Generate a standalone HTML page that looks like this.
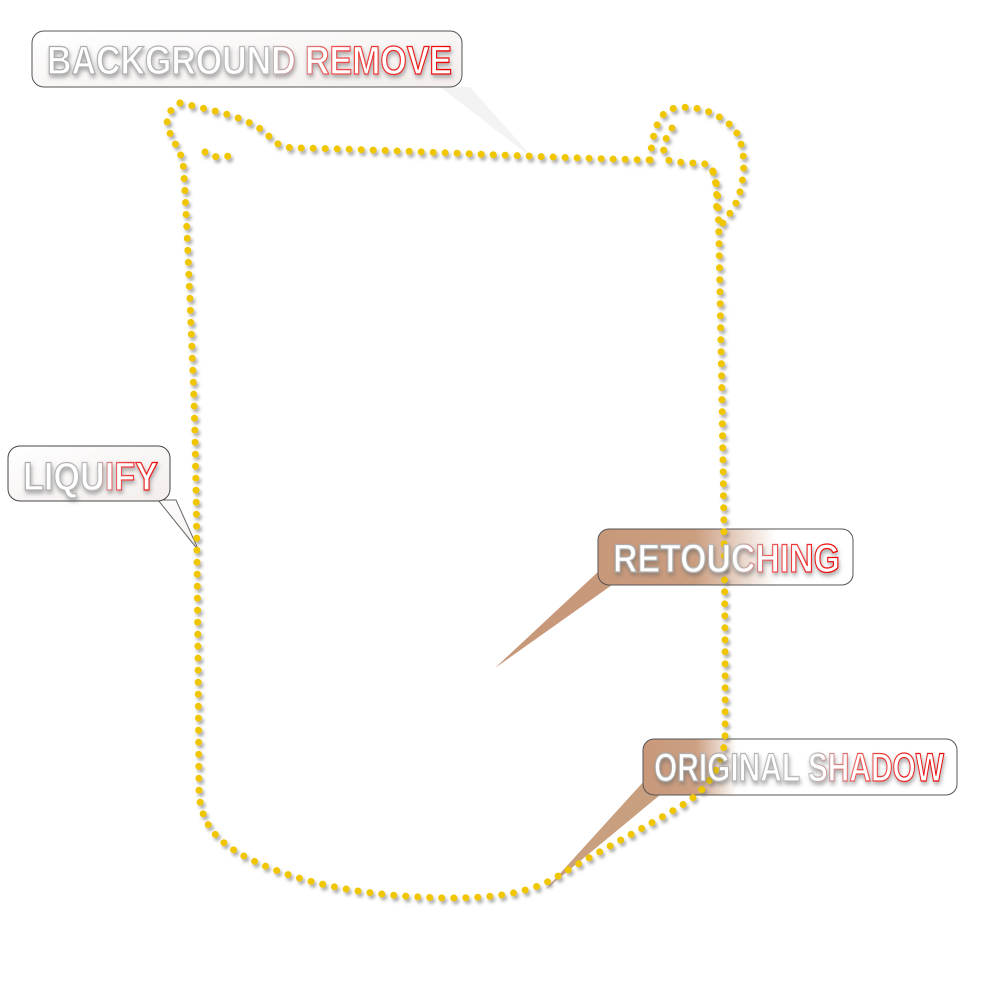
<!DOCTYPE html>
<html><head><meta charset="utf-8"><style>html,body{margin:0;padding:0;background:#fff}svg{display:block}</style></head>
<body>
<svg width="1000" height="1000" viewBox="0 0 1000 1000" xmlns="http://www.w3.org/2000/svg">
<defs>
<linearGradient id="tg" x1="0" y1="0" x2="1" y2="0">
<stop offset="0" stop-color="#aaa"/><stop offset="0.55" stop-color="#bbb"/><stop offset="0.7" stop-color="#e55"/><stop offset="1" stop-color="#e00"/></linearGradient>
<linearGradient id="br" x1="0" y1="0" x2="1" y2="0">
<stop offset="0" stop-color="#c8987a"/><stop offset="0.38" stop-color="#cc9e80"/><stop offset="0.7" stop-color="#fff"/></linearGradient>
<linearGradient id="br2" x1="0" y1="0" x2="1" y2="0">
<stop offset="0" stop-color="#c8987a"/><stop offset="0.17" stop-color="#cda083"/><stop offset="0.3" stop-color="#fff"/></linearGradient>
<linearGradient id="wt" x1="0" y1="0" x2="1" y2="1">
<stop offset="0" stop-color="#fff"/><stop offset="1" stop-color="#f3eeec"/></linearGradient>
<filter id="sh" x="-10%" y="-20%" width="130%" height="150%"><feDropShadow dx="2" dy="3" stdDeviation="1.5" flood-color="#777" flood-opacity="0.6"/></filter>
<filter id="ts" x="-5%" y="-30%" width="110%" height="170%"><feDropShadow dx="1" dy="3" stdDeviation="2" flood-color="#666" flood-opacity="0.55"/></filter>
</defs>

<polygon points="440,87 470,87 535,160" fill="#f3f3f3"/>
<polygon points="158,500 176,500 199,551" fill="url(#wt)" stroke="#666" stroke-width="1"/>
<polygon points="600,570 612,585 495,668" fill="#c8987a"/>
<polygon points="645,780 660,795 545,890" fill="#c8a080"/>

<rect x="32" y="31" width="430" height="56" rx="12" fill="url(#wt)" stroke="#555" stroke-width="1"/>
<rect x="8" y="446" width="162" height="55" rx="12" fill="url(#wt)" stroke="#444" stroke-width="1"/>
<rect x="598" y="529" width="255" height="56" rx="11" fill="url(#br)" stroke="#555" stroke-width="1"/>
<rect x="643" y="739" width="314" height="56" rx="11" fill="url(#br2)" stroke="#555" stroke-width="1"/>

<g fill="none" stroke="#f0c600" stroke-width="7" stroke-linecap="round" stroke-dasharray="0 12" filter="url(#sh)">
<path d="M180,103 C170,108 165,118 168,128 C172,140 180,150 183,162 C186,200 190,300 194,400 C197,500 198,650 199,790 C200,830 225,850 270,868 C320,888 380,897 450,898 C500,898 530,892 555,878 C600,850 660,820 690,800 C710,785 722,765 725,740 C726,600 722,400 719,240 C718,200 718,180 712,170"/>
<path d="M180,103 C220,112 250,118 268,135 C278,148 290,148 300,148 C400,150 550,158 650,160"/>
<path d="M650,160 C652,140 655,120 668,110 C690,102 720,112 735,130 C748,150 745,185 735,205 C730,215 722,222 718,232"/>
<path d="M672,128 C664,140 660,152 668,160 C680,164 700,162 710,165 C716,175 718,195 716,215"/>
<path d="M205,152 C210,158 220,157 230,156"/>
</g>

<g font-family="'Liberation Sans',sans-serif" font-weight="bold" fill="#fff" stroke="url(#tg)" stroke-width="1.3" filter="url(#ts)">
<text x="47" y="74" font-size="40" textLength="405" lengthAdjust="spacingAndGlyphs">BACKGROUND REMOVE</text>
<text x="23" y="490" font-size="40" textLength="135" lengthAdjust="spacingAndGlyphs">LIQUIFY</text>
<text x="613" y="572" font-size="40" textLength="227" lengthAdjust="spacingAndGlyphs">RETOUCHING</text>
<text x="654" y="781" font-size="40" textLength="290" lengthAdjust="spacingAndGlyphs">ORIGINAL SHADOW</text>
</g>
</svg>
</body></html>
